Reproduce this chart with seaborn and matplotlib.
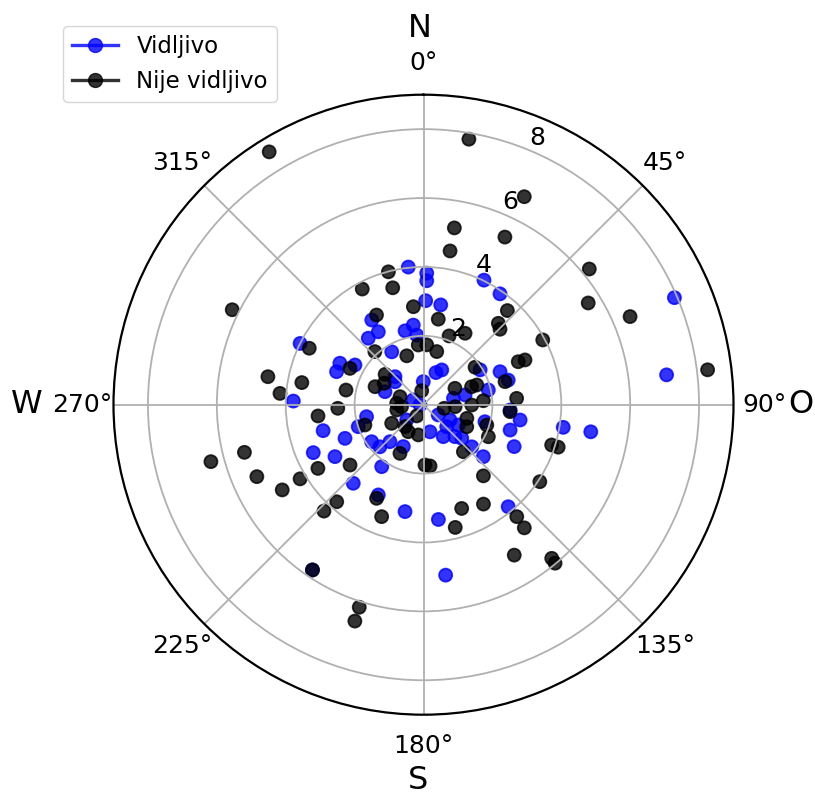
import numpy as np
import pandas as pd
import seaborn as sns
import matplotlib.pyplot as plt
from matplotlib.lines import Line2D

# azimuth (deg, clockwise from N) and distance for each group
vis_theta = [353.7, 1.4, 1.5, 25.9, 34.6, 1.2, 9.8, 66.9, 83.0, 99.2, 99.2, 296.4,
             271.6, 255.5, 246.5, 213.9, 172.6, 172.6, 328.6, 346.0, 352.7, 354.4,
             328.2, 320.3, 329.0, 296.4, 290.8, 300.1, 21.2, 27.7, 58.4, 314.5,
             308.9, 288.7, 359.5, 77.2, 66.7, 73.8, 294.7, 265.0, 77.9, 76.8,
             124.8, 120.0, 120.3, 133.5, 105.5, 93.5, 99.0, 106.3, 114.8, 227.7,
             166.5, 258.1, 251.4, 246.8, 234.5, 226.0, 222.2, 205.7, 148.3, 135.5,
             131.3, 131.1, 131.0, 239.6, 214.0, 221.8, 206.6, 189.8, 140.3]
vis_r = [4.02, 3.82, 3.60, 4.02, 3.91, 3.02, 2.94, 7.92, 7.11, 4.11, 4.92, 4.00,
         3.78, 3.01, 3.49, 5.78, 4.99, 3.36, 2.88, 2.21, 2.33, 2.03,
         2.49, 2.51, 1.79, 2.71, 2.70, 2.30, 1.00, 1.14, 1.93, 1.16,
         1.06, 1.18, 0.67, 1.93, 2.42, 2.56, 0.33, 0.10, 0.89, 1.24,
         0.52, 0.89, 1.17, 0.93, 1.85, 2.52, 2.84, 2.62, 2.90, 0.66,
         0.81, 1.69, 2.00, 2.48, 1.85, 1.76, 1.45, 1.35, 1.09, 1.30,
         1.48, 1.86, 2.30, 2.98, 2.17, 3.06, 2.93, 3.15, 3.85]

nvis_theta = [328.6, 296.4, 9.7, 25.85, 9.9, 25.9, 9.8, 345.2, 332.1, 345.25, 354.1,
              41.7, 332.35, 50.7, 58.3, 66.9, 61.5, 83.0, 107.45, 107.5, 123.5,
              296.3, 280.2, 280.3, 274.5, 263.9, 255.1, 255.0, 238.9, 246.65, 239.0,
              238.9, 223.1, 213.9, 165.5, 140.7, 148.9, 197.6, 197.6, 140.15, 140.3,
              9.8, 20.4, 30.2, 42.6, 45.4, 317.5, 341.1, 355.0, 3.1, 14.0,
              296.3, 54.0, 308.3, 298.6, 290.4, 280.7, 352.7, 62.5, 69.5, 69.7,
              74.2, 65.6, 66.2, 86.1, 267.6, 288.8, 273.0, 258.8, 264.8, 99.8,
              93.6, 90.4, 86.2, 107.5, 117.0, 107.8, 116.3, 94.6, 211.0, 239.7,
              220.1, 209.4, 189.7, 250.9, 205.8, 139.7, 230.6, 178.6, 173.9, 139.9,
              221.8, 206.6, 200.5, 159.8, 148.9, 140.2]
nvis_r = [8.60, 6.20, 7.82, 6.71, 5.21, 5.41, 4.53, 3.99, 3.80, 3.51, 2.86,
          3.66, 2.94, 6.22, 5.62, 6.52, 3.94, 8.31, 3.90, 4.10, 4.05,
          3.70, 4.59, 3.59, 4.18, 3.08, 5.38, 6.39, 3.58, 5.27, 4.18,
          4.79, 4.23, 5.78, 3.68, 4.62, 5.10, 6.17, 6.59, 5.81, 5.98,
          2.52, 2.13, 2.40, 3.21, 3.12, 2.09, 1.50, 1.74, 1.74, 1.59,
          2.38, 1.85, 1.42, 1.30, 1.50, 2.29, 0.41, 1.03, 1.49, 1.65,
          2.46, 3.02, 3.22, 2.71, 2.49, 0.72, 0.78, 0.79, 0.64, 0.61,
          0.92, 1.40, 1.74, 1.32, 1.41, 1.93, 2.10, 2.52, 0.38, 1.07,
          0.83, 0.90, 0.89, 1.80, 1.57, 1.79, 2.76, 1.75, 1.79, 2.70,
          3.78, 3.04, 3.47, 3.21, 3.37, 4.23]

groups = ['Vidljivo', 'Nije vidljivo']
colors = {'Vidljivo': 'blue', 'Nije vidljivo': 'black'}

df = pd.concat([
    pd.DataFrame({'theta': np.deg2rad(vis_theta), 'r': vis_r, 'status': groups[0]}),
    pd.DataFrame({'theta': np.deg2rad(nvis_theta), 'r': nvis_r, 'status': groups[1]}),
], ignore_index=True)

fig = plt.figure(figsize=(8.15, 7.98), dpi=100)
ax = fig.add_axes([113.5 / 815, 83.3 / 798, 620 / 815, 620 / 798], projection='polar')
ax.set_theta_zero_location('N')
ax.set_theta_direction(-1)

sns.scatterplot(data=df, x='theta', y='r', hue='status', palette=colors,
                s=88, alpha=0.8, edgecolor='face', linewidth=1.3,
                legend=False, ax=ax)

ax.set_ylim(0, 9)
ax.set_rticks([2, 4, 6, 8])
ax.set_xlabel('')
ax.set_ylabel('')
ax.tick_params(axis='both', labelsize=18)
ax.tick_params(axis='x', pad=12)
ax.grid(True, color='#b0b0b0', linewidth=1.3)
ax.spines['polar'].set_linewidth(1.6)

# compass letters (placed by baseline)
fig.text(420 / 815, 1 - 37 / 798, 'N', fontsize=23, ha='center', va='baseline')
fig.text(801 / 815, 1 - 413 / 798, 'O', fontsize=23, ha='center', va='baseline')
fig.text(418 / 815, 1 - 789 / 798, 'S', fontsize=23, ha='center', va='baseline')
fig.text(27 / 815, 1 - 413 / 798, 'W', fontsize=23, ha='center', va='baseline')

handles = [Line2D([0], [0], color=colors[g], marker='o', alpha=0.8,
                  markersize=10, lw=2.4, label=g) for g in groups]
ax.legend(handles=handles, loc='upper left', bbox_to_anchor=(63 / 815, 1 - 26 / 798),
          bbox_transform=fig.transFigure, borderaxespad=0, fontsize=16.5)

plt.savefig('out.png', dpi=100)
